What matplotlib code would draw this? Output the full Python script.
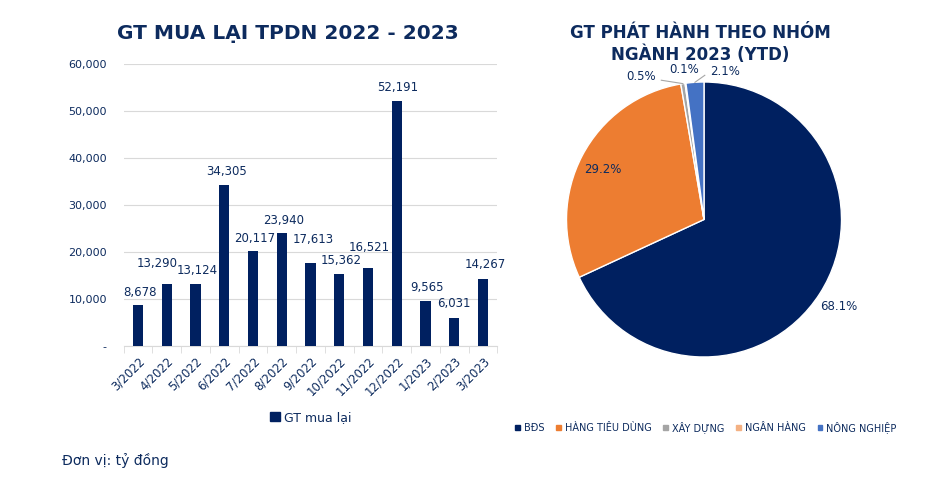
import numpy as np
import matplotlib
matplotlib.use("Agg")
import matplotlib.pyplot as plt
from matplotlib.patches import Patch
from matplotlib.ticker import FuncFormatter, FixedLocator

# data
months = ["3/2022", "4/2022", "5/2022", "6/2022", "7/2022", "8/2022", "9/2022",
          "10/2022", "11/2022", "12/2022", "1/2023", "2/2023", "3/2023"]
buyback = [8678, 13290, 13124, 34305, 20117, 23940, 17613,
           15362, 16521, 52191, 9565, 6031, 14267]

sectors = ["BĐS", "HÀNG TIÊU DÙNG", "XÂY DỰNG", "NGÂN HÀNG", "NÔNG NGHIỆP"]
shares = [68.1, 29.2, 0.5, 0.1, 2.1]

NAVY = "#002060"
TEXT = "#0D2B5E"
pie_colors = [NAVY, "#ED7D31", "#A5A5A5", "#F4B183", "#4472C4"]

# label nudges (pixels) so the value labels don't collide
label_dx = [2, -10, 2, 2, 2, 2, 3, 2, 1, 1, 1, 0, 2]
label_dy = [13, 20, 14, 13, 13, 13, 24, 13, 21, 13, 14, 14, 14]

plt.rcParams["font.family"] = ["DejaVu Sans"]

fig = plt.figure(figsize=(9.35, 4.79), dpi=100)

# ---- bar chart ----
W, H = 935, 479
ax = fig.add_axes([123.6 / W, (H - 346) / H, (497.4 - 123.6) / W, (346 - 64) / H])
x = np.arange(len(months))
bars = ax.bar(x, buyback, width=0.35, color=NAVY, zorder=3)

ax.set_ylim(0, 60000)
ax.set_xlim(-0.5, len(months) - 0.5)
ax.set_yticks(np.arange(0, 60001, 10000))
ax.yaxis.set_major_formatter(FuncFormatter(lambda v, p: "-" if v == 0 else f"{int(v):,}"))
ax.grid(axis="y", color="#D9D9D9", linewidth=0.8, zorder=0)
for s in ["left", "right", "top"]:
    ax.spines[s].set_visible(False)
ax.spines["bottom"].set_color("#D9D9D9")
ax.tick_params(axis="y", length=0, labelsize=8, labelcolor=TEXT, pad=12)

ax.set_xticks(x)
ax.set_xticklabels(months, rotation=45, ha="right", rotation_mode="anchor",
                   fontsize=8.5, color=TEXT)
ax.tick_params(axis="x", which="major", length=0, pad=6)
ax.xaxis.set_minor_locator(FixedLocator(np.arange(-0.5, len(months), 1.0)))
ax.tick_params(axis="x", which="minor", length=5, color="#D9D9D9")

for b, v, dx, dy in zip(bars, buyback, label_dx, label_dy):
    ax.annotate(f"{v:,}", (b.get_x() + b.get_width() / 2, v),
                xytext=(dx, dy), textcoords="offset pixels",
                ha="center", va="center", fontsize=8.5, color=TEXT)

ax.set_title("GT MUA LẠI TPDN 2022 - 2023", fontsize=14.5, fontweight="bold",
             color=TEXT, pad=18, x=0.44)

ax.legend(handles=[Patch(color=NAVY, label="GT mua lại")], loc="upper center",
          bbox_to_anchor=(0.5, -0.19), frameon=False, fontsize=9,
          handlelength=0.8, handleheight=0.8, handletextpad=0.3,
          labelcolor=TEXT)

fig.text(62 / W, 1 - 460 / H, "Đơn vị: tỷ đồng", fontsize=10, color=TEXT,
         va="center", ha="left")

# ---- pie chart ----
R = 137.5
cx, cy = 704, 219.5
half = 1.2 * R
ax2 = fig.add_axes([(cx - half) / W, (H - cy - half) / H, 2 * half / W, 2 * half / H])
wedges, _ = ax2.pie(shares, colors=pie_colors, startangle=90, counterclock=False,
                    wedgeprops=dict(edgecolor="white", linewidth=1.0))
ax2.set_xlim(-1.2, 1.2)
ax2.set_ylim(-1.2, 1.2)
ax2.set_aspect("equal")
ax2.axis("off")

# label placement: (distance factor, angle offset in degrees, leader line)
label_pos = [(1.17, -0.3, False), (0.82, 1.6, False), (1.14, 15.0, True),
             (1.10, 0.0, False), (1.09, -12.0, True)]
for w, v, (d, off, lead) in zip(wedges, shares, label_pos):
    mid = np.deg2rad((w.theta1 + w.theta2) / 2)
    ang = mid + np.deg2rad(off)
    tx, ty = d * np.cos(ang), d * np.sin(ang)
    ax2.text(tx, ty, f"{v}%", ha="center", va="center", fontsize=8.5, color=TEXT)
    if lead:
        ex, ey = 1.0 * np.cos(mid), 1.0 * np.sin(mid)
        sx = tx + (0.15 if tx < ex else -0.15)
        ax2.plot([sx, ex], [ty - 0.03, ey], color="#A6A6A6", linewidth=0.8)

fig.text(700 / W, 1 - 44 / H, "GT PHÁT HÀNH THEO NHÓM\nNGÀNH 2023 (YTD)",
         ha="center", va="center", fontsize=12, fontweight="bold",
         color=TEXT, linespacing=1.25)

fig.legend(handles=[Patch(color=c, label=s) for c, s in zip(pie_colors, sectors)],
           loc="center", bbox_to_anchor=(706 / W, 1 - 427 / H), ncol=5,
           frameon=False, fontsize=7, handlelength=0.5, handleheight=0.5,
           handletextpad=0.4, columnspacing=1.2, labelcolor=TEXT)

fig.savefig("out.png", dpi=100)
